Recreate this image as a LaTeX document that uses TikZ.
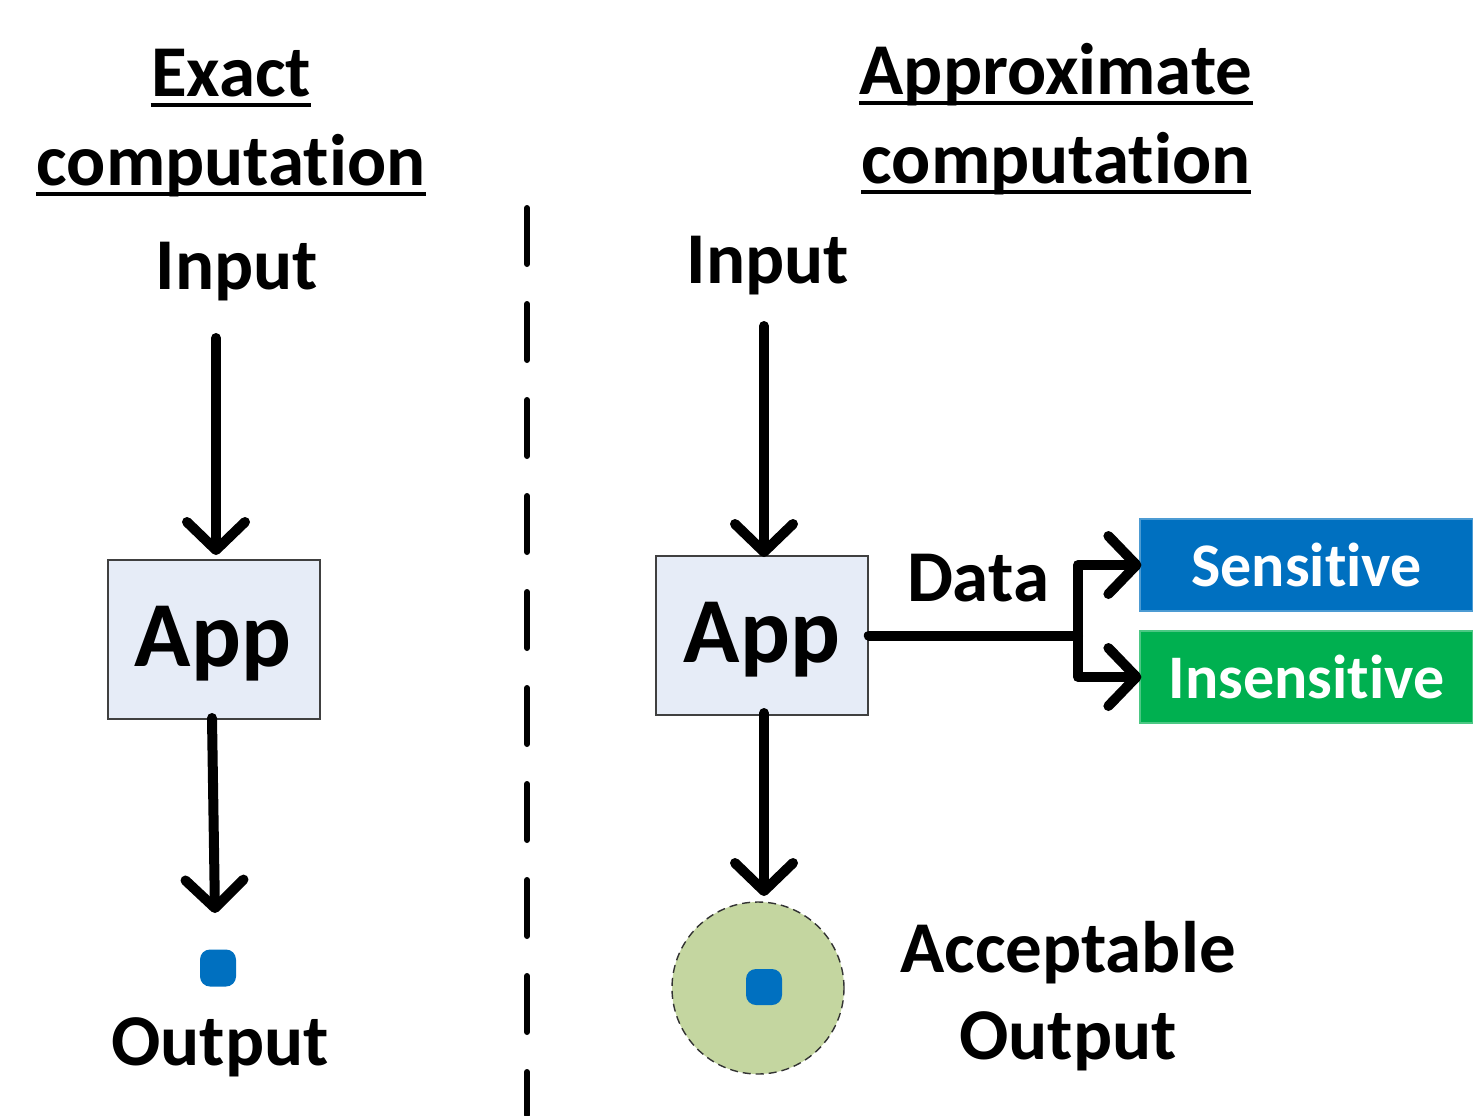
\documentclass[tikz,border=0pt]{standalone}
\usepackage{fontspec}
\setmainfont{Carlito}[RawFeature={-liga;-clig;-dlig}]
\usetikzlibrary{arrows.meta}
\definecolor{appfill}{HTML}{E6ECF7}
\definecolor{appdraw}{HTML}{404040}
\definecolor{sensblue}{HTML}{0070C0}
\definecolor{insgreen}{HTML}{00B050}
\definecolor{zonefill}{HTML}{C4D6A0}
\tikzset{
  txt/.style={inner sep=0pt, anchor=base, font=\fontsize{36.5}{44}\selectfont\bfseries},
  apptxt/.style={inner sep=0pt, anchor=base, font=\fontsize{46.5}{56}\selectfont\bfseries},
  appbox/.style={draw=appdraw, line width=0.75pt, fill=appfill, minimum width=106pt, minimum height=79.5pt, inner sep=0pt},
  catbox/.style={fill=#1, draw=#1!70!white, line width=0.6pt, minimum width=166.5pt, minimum height=46pt, inner sep=0pt, text=white, font=\fontsize{31}{37}\selectfont\bfseries},
  arr/.style={line width=5pt, line cap=round, line join=round, -{Straight Barb[length=14pt,width=29pt,line cap=round,line join=round]}},
  plain/.style={line width=5pt, line cap=round},
  ul/.style={line width=2pt},
  sep/.style={line width=3pt, line cap=round, dash pattern=on 28pt off 20pt},
  dot/.style={fill=sensblue, rounded corners=5pt, minimum width=18pt, minimum height=18.5pt, inner sep=0pt},
  zone/.style={circle, fill=zonefill, draw=black!80, line width=0.7pt, dash pattern=on 4pt off 2.5pt, minimum size=86pt, inner sep=0pt}
}
\begin{document}
\begin{tikzpicture}[x=0.5pt,y=-0.5pt]
\useasboundingbox (0,0) rectangle (1473,1115);
% titles
\node[txt] (tl1) at (231,96) {Exact};
\node[txt] (tl2) at (231,185) {computation};
\node[txt] (tr1) at (1056,94) {Approximate};
\node[txt] (tr2) at (1056,183) {computation};
\foreach \n in {tl1,tl2,tr1,tr2}
  \draw[ul] ([yshift=-4.5pt]\n.base west) -- ([yshift=-4.5pt]\n.base east);
% separator
\coordinate (septop) at (527,208);
\coordinate (sepbot) at (527,1115);
\draw[sep] (septop) -- (sepbot);
% left side
\node[txt] (inL) at (237,289) {Input};
\node[appbox] (appL) at (214,639.5) {};
\node[apptxt] (appLt) at (213,666) {App};
\node[dot] (dotL) at (218,968) {};
\node[txt] (outL) at (220,1065) {Output};
\coordinate (inLs) at (216,338);
\coordinate (inLe) at (216,555);
\coordinate (outLs) at (212,718);
\coordinate (outLe) at (215,913);
\draw[arr] (inLs) -- (inLe);
\draw[arr] (outLs) -- (outLe);
% right side
\node[txt] (inR) at (768,283) {Input};
\node[appbox] (appR) at (762,635.5) {};
\node[apptxt] (appRt) at (762,662) {App};
\node[txt] (data) at (978,601) {Data};
\node[catbox=sensblue] (sens) at (1306.5,565) {Sensitive};
\node[catbox=insgreen] (ins) at (1306.5,677) {Insensitive};
\coordinate (split) at (1078,635.5);
\draw[plain] (appR.east) -- (split);
\draw[arr] (split) |- ([xshift=1pt]sens.west);
\draw[arr] (split) |- ([xshift=1pt]ins.west);
\coordinate (inRs) at (764,326);
\coordinate (inRe) at (764,557);
\draw[arr] (inRs) -- (inRe);
\node[zone] (zone) at (758,988) {};
\node[dot, minimum height=18pt] (dotR) at (764,987) {};
\coordinate (outRs) at (764,713);
\coordinate (outRe) at (764,896);
\draw[arr] (outRs) -- (outRe);
\node[txt] (acc1) at (1068,972) {Acceptable};
\node[txt] (acc2) at (1068,1059) {Output};
\end{tikzpicture}
\end{document}
